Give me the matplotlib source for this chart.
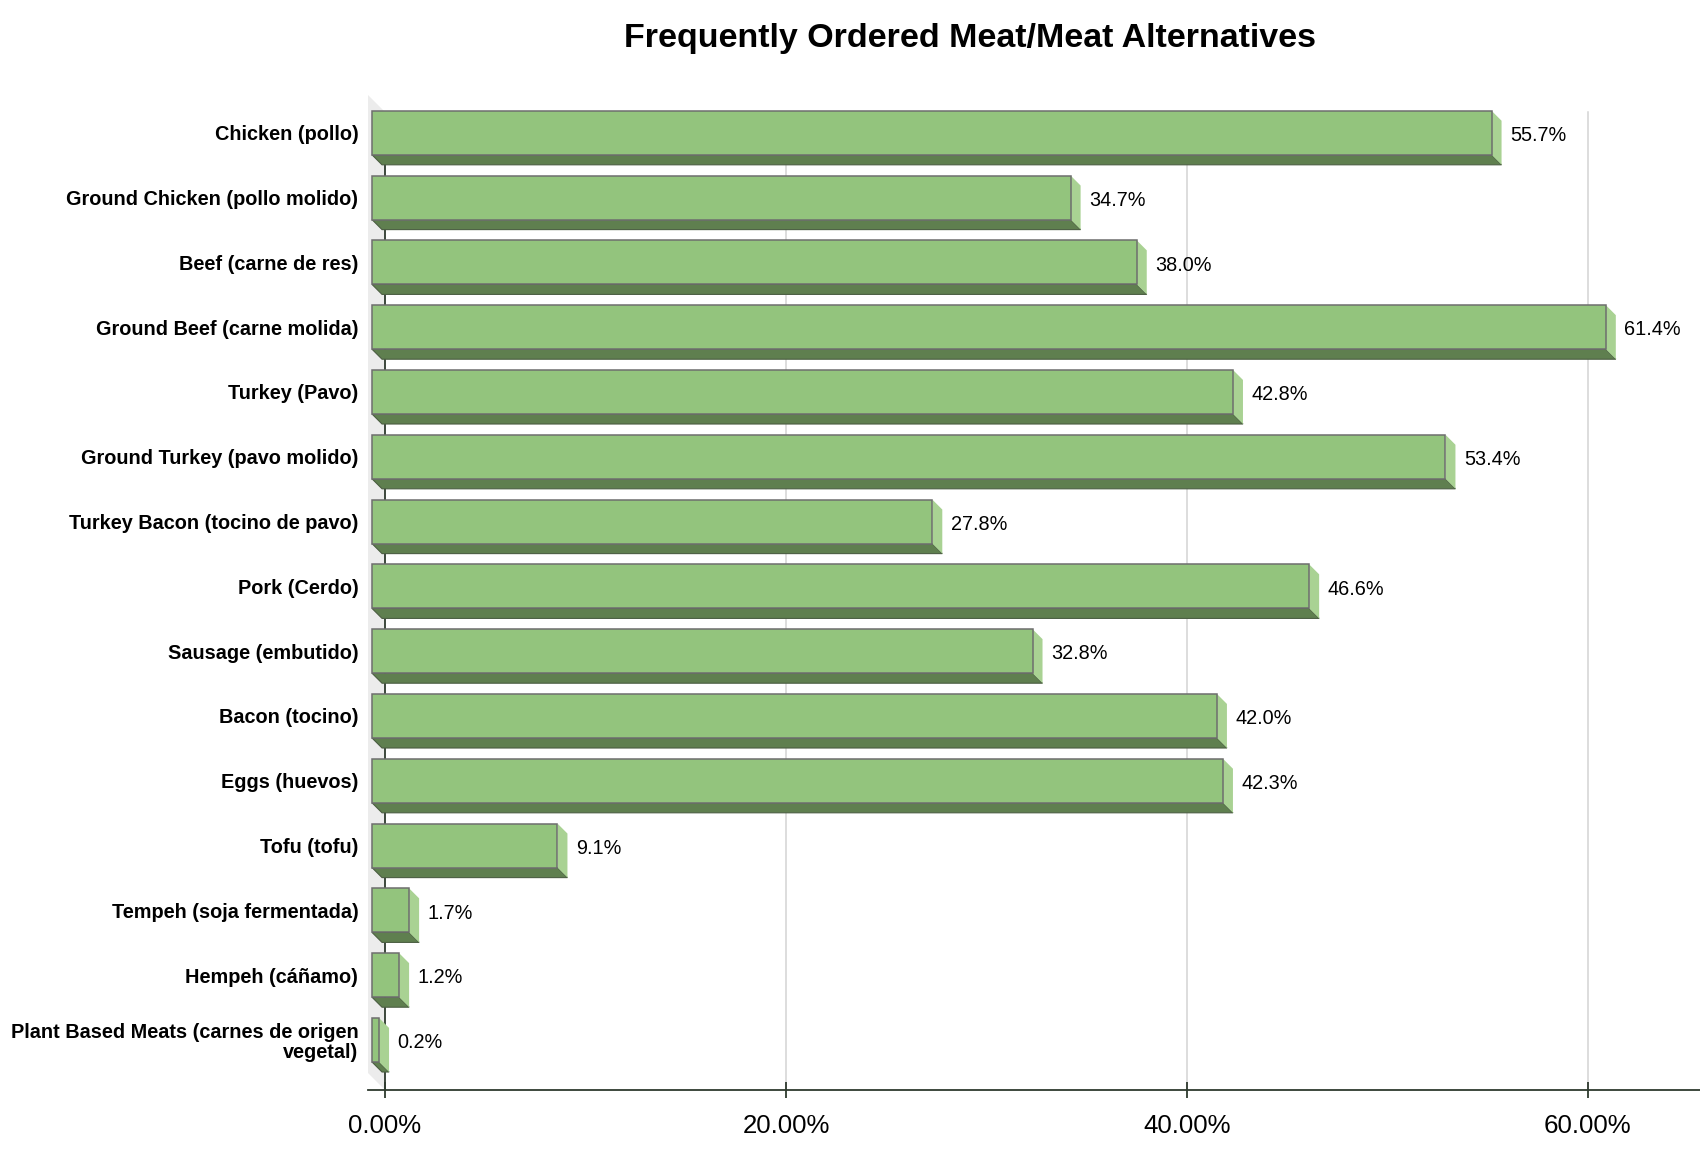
import matplotlib
matplotlib.use("Agg")
import matplotlib.pyplot as plt
from matplotlib.patches import Polygon
from matplotlib.ticker import FuncFormatter

plt.rcParams["font.family"] = ["Liberation Sans", "DejaVu Sans"]

# ----------------------------------------------------------
# data
# ----------------------------------------------------------
categories = [
    "Chicken (pollo)",
    "Ground Chicken (pollo molido)",
    "Beef (carne de res)",
    "Ground Beef (carne molida)",
    "Turkey (Pavo)",
    "Ground Turkey (pavo molido)",
    "Turkey Bacon (tocino de pavo)",
    "Pork (Cerdo)",
    "Sausage (embutido)",
    "Bacon (tocino)",
    "Eggs (huevos)",
    "Tofu (tofu)",
    "Tempeh (soja fermentada)",
    "Hempeh (cáñamo)",
    "Plant Based Meats (carnes de origen\nvegetal)",
]
percent = [55.7, 34.7, 38.0, 61.4, 42.8, 53.4, 27.8, 46.6,
           32.8, 42.0, 42.3, 9.1, 1.7, 1.2, 0.2]
x_ticks = [0, 20, 40, 60]

# styling
FRONT = "#93c47d"
BOTTOM = "#5f7f4f"
SIDE = "#a9d293"
WALL = "#ececec"
AXIS = "#2e3a2e"
DEPTH_PX = 10      # bar depth offset in pixels
WALL_PX = 17       # wall depth offset in pixels
HALF = 0.34        # half bar height (category units)
X_START = -0.15

fig = plt.figure(figsize=(17, 11.58), dpi=100)
ax = fig.add_axes([368 / 1700, 68 / 1158, 1332 / 1700, 995 / 1158])
ax.set_xlim(-0.85, 65.6)
ax.set_ylim(14.772, -0.583)

# pixel -> data conversion factors
p0 = ax.transData.transform((0, 0))
p1 = ax.transData.transform((1, 1))
px_x = abs(p1[0] - p0[0])
px_y = abs(p1[1] - p0[1])
dx = DEPTH_PX / px_x
dy = DEPTH_PX / px_y
wdx = WALL_PX / px_x
wdy = WALL_PX / px_y

x_lo, x_hi = ax.get_xlim()
y_bot, y_top = ax.get_ylim()

# left wall
ax.add_patch(Polygon([(x_lo, y_top), (x_lo + wdx, y_top + wdy),
                      (x_lo + wdx, y_bot), (x_lo, y_bot - wdy)],
                     closed=True, facecolor=WALL, edgecolor="none", zorder=0))

# grid lines and back vertical axis
for t in x_ticks[1:]:
    ax.plot([t, t], [y_top + wdy, y_bot], color="#d3d3d3", lw=1.1, zorder=0.5)
ax.plot([0, 0], [y_top + wdy, y_bot], color=AXIS, lw=1.3, zorder=0.6)

# bars
for i, v in enumerate(percent):
    top, bot = i - HALF, i + HALF
    vf = v - dx
    x0f = X_START - dx
    # bottom face
    ax.add_patch(Polygon([(x0f, bot), (vf, bot), (v, bot + dy), (X_START, bot + dy)],
                         closed=True, facecolor=BOTTOM, edgecolor="#4b5e42",
                         lw=0.8, zorder=2))
    # side face
    ax.add_patch(Polygon([(vf, top), (v, top + dy), (v, bot + dy), (vf, bot)],
                         closed=True, facecolor=SIDE, edgecolor="none", zorder=2))
    # front face
    ax.add_patch(Polygon([(x0f, top), (vf, top), (vf, bot), (x0f, bot)],
                         closed=True, facecolor=FRONT, edgecolor="#6e6e6e",
                         lw=1.1, zorder=3))
    ax.annotate(f"{v:.1f}%", xy=(v, i), xytext=(6, -2), textcoords="offset points",
                ha="left", va="center", fontsize=14.3, color="black", zorder=4)

# axes
for s in ("top", "right", "left"):
    ax.spines[s].set_visible(False)
ax.spines["bottom"].set_color(AXIS)
ax.spines["bottom"].set_linewidth(1.3)
ax.set_xticks(x_ticks)
ax.xaxis.set_major_formatter(FuncFormatter(lambda x, _: f"{x:.2f}%"))
ax.tick_params(axis="x", direction="inout", length=12, width=1.3, color=AXIS,
               labelsize=18.6, pad=11)
ax.set_yticks(range(len(categories)))
ax.set_yticklabels(categories, fontweight="bold", fontsize=14.3, linespacing=1.1)
ax.tick_params(axis="y", length=0, pad=7)
ax.set_facecolor("none")

fig.text(970 / 1700, 1 - 38 / 1158, "Frequently Ordered Meat/Meat Alternatives",
         ha="center", va="center", fontsize=24.5, fontweight="bold")

fig.savefig("out.png", dpi=100)
